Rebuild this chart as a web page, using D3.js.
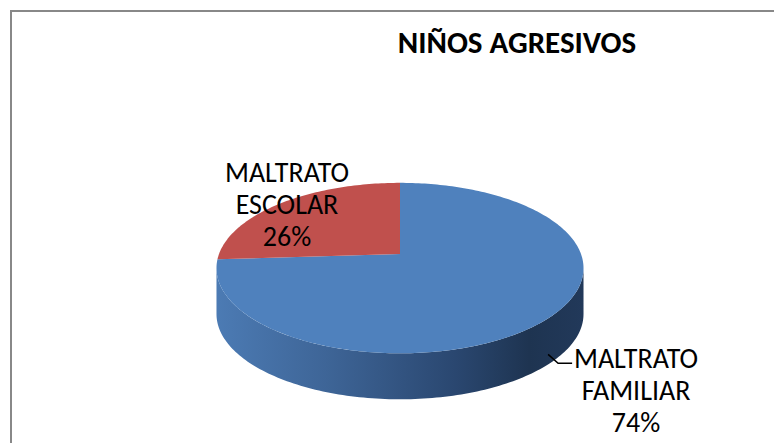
<!DOCTYPE html>
<html>
<head>
<meta charset="utf-8">
<script src="https://cdn.jsdelivr.net/npm/d3@7"></script>
<style>
  body { margin: 0; background: #fff; }
  text { font-family: Carlito, Calibri, "Open Sans", sans-serif; fill: #000; }
</style>
</head>
<body>
<div id="chart"></div>
<script>
// data
const title = "NIÑOS AGRESIVOS";
const categories = ["MALTRATO FAMILIAR", "MALTRATO ESCOLAR"];
const values = [74, 26];
const colors = ["#4F81BD", "#C0504D"];

const width = 774, height = 443;

const svg = d3.select("#chart")
    .append("svg")
    .attr("width", width)
    .attr("height", height);

// chart area border (runs off the right / bottom edge)
svg.append("rect")
    .attr("x", 11).attr("y", 11)
    .attr("width", width + 20).attr("height", height + 20)
    .attr("fill", "none")
    .attr("stroke", "#888")
    .attr("stroke-width", 2);

// title
svg.append("text")
    .attr("x", 517)
    .attr("y", 53)
    .attr("text-anchor", "middle")
    .attr("font-size", "31px")
    .attr("font-weight", "bold")
    .text(title);

// 3d pie: perspective projection of a unit disc, angle clockwise from 12 o'clock
const cx = 400, S = 181, p = 0.165, A = -248.4, B = 502.4, depth = 46;
function proj(t, dy) {
    const w = 1 + p * Math.cos(t);
    return [cx + S * Math.sin(t) / w, A + B / w + (dy || 0)];
}
function arcPoints(a0, a1, dy) {
    const n = Math.max(2, Math.ceil(Math.abs(a1 - a0) / 0.02));
    return d3.range(n + 1).map(i => proj(a0 + (a1 - a0) * i / n, dy));
}

const pie = d3.pie().sort(null).value(d => d);
const arcs = pie(values);

const defs = svg.append("defs");
const grad = defs.append("linearGradient")
    .attr("id", "sideBlue")
    .attr("gradientUnits", "userSpaceOnUse")
    .attr("x1", cx - S * 1.02).attr("x2", cx + S * 1.02)
    .attr("y1", 0).attr("y2", 0);
grad.selectAll("stop")
    .data([["0%", "#4c7bb4"], ["30%", "#3e6597"], ["65%", "#2a4770"], ["85%", "#1e3451"], ["100%", "#22395a"]])
    .join("stop")
    .attr("offset", d => d[0])
    .attr("stop-color", d => d[1]);

const line = d3.line();

// front side wall (only the near half is visible)
const sideFrom = Math.acos(-p), sideTo = 2 * Math.PI - Math.acos(-p);
arcs.forEach(function(a, i) {
    const a0 = Math.max(a.startAngle, sideFrom), a1 = Math.min(a.endAngle, sideTo);
    if (a1 <= a0) return;
    const pts = arcPoints(a0, a1, 0).concat(arcPoints(a1, a0, depth));
    svg.append("path")
        .attr("d", line(pts) + "Z")
        .attr("fill", i === 0 ? "url(#sideBlue)" : d3.color(colors[i]).darker(1));
});

// top faces
svg.selectAll(".slice")
    .data(arcs)
    .join("path")
    .attr("class", "slice")
    .attr("d", d => line([[cx, A + B]].concat(arcPoints(d.startAngle, d.endAngle, 0))) + "Z")
    .attr("fill", (d, i) => colors[i]);

// labels
const fmt = d => Math.round(d) + "%";
const labelPos = [[636, 368], [287, 182]];
categories.forEach(function(c, i) {
    const rows = c.split(" ").concat([fmt(values[i])]);
    svg.append("text")
        .attr("text-anchor", "middle")
        .attr("font-size", "28px")
        .selectAll("tspan")
        .data(rows)
        .join("tspan")
        .attr("x", labelPos[i][0])
        .attr("y", (d, k) => labelPos[i][1] + k * 32)
        .text(d => d);
});

// leader line for the familiar slice
const lp = proj(2.33, 36);
svg.append("path")
    .attr("d", line([lp, [lp[0] + 10, lp[1] + 9], [lp[0] + 24, lp[1] + 9]]))
    .attr("fill", "none")
    .attr("stroke", "#000")
    .attr("stroke-width", 1.5);
</script>
</body>
</html>
